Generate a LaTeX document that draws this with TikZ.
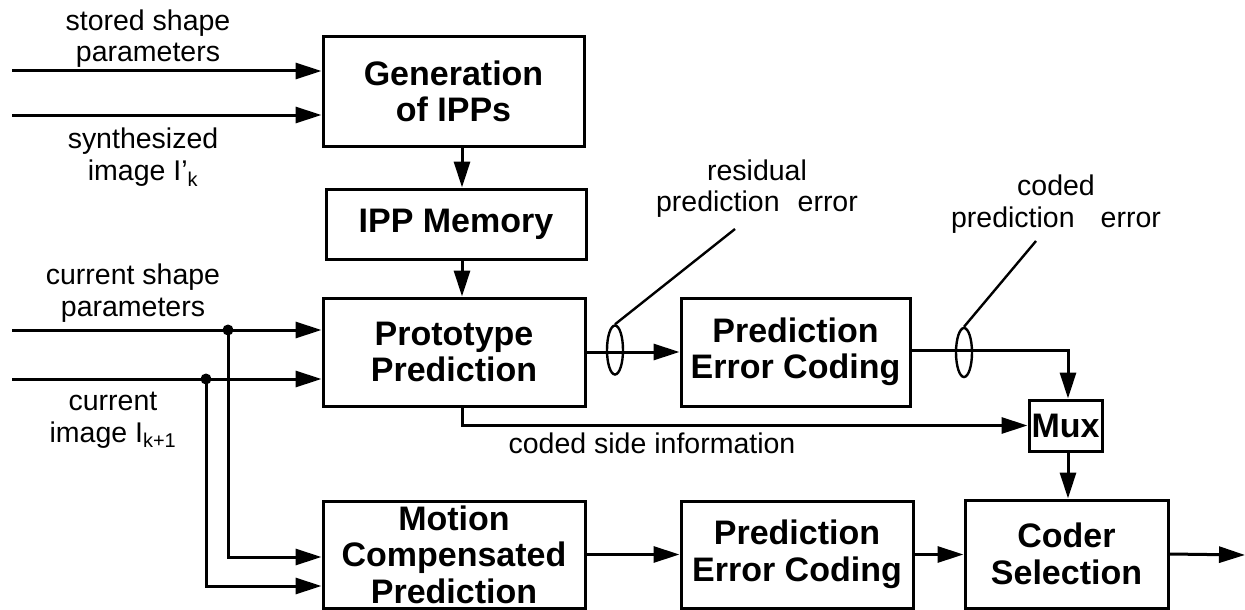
\documentclass[tikz,border=0pt]{standalone}
\usepackage{fontspec}
\setmainfont{Liberation Sans}
\usetikzlibrary{arrows.meta,calc,shapes.geometric}
\begin{document}
\begin{tikzpicture}[x=1pt,y=-1pt,
  line width=3pt,
  box/.style={draw, line width=3pt, font=\fontsize{34}{36.5}\selectfont\bfseries, align=center, inner sep=0pt},
  lbl/.style={font=\fontsize{28.5}{31.5}\selectfont, align=center, inner sep=0pt},
  arr/.style={-{Triangle[length=26pt,width=16pt]}},
  lead/.style={line width=2.4pt},
  ring/.style={draw, ellipse, line width=2.4pt, inner sep=0pt, minimum width=16pt, minimum height=49pt},
  dot/.style={circle, fill, inner sep=0pt, minimum size=11pt}]
\useasboundingbox (0,0) rectangle (1245,610);

% boxes
\node[box, minimum width=261pt, minimum height=109pt] (gen) at (453.5,91.5) {Generation\\of IPPs};
\node[box, minimum width=260pt, minimum height=70pt] (ipp) at (456,224) {IPP Memory};
\node[box, minimum width=262pt, minimum height=108pt] (proto) at (454,352) {Prototype\\Prediction};
\node[box, minimum width=262pt, minimum height=107pt] (mcp) at (454,554.5) {Motion\\Compensated\\Prediction};
\node[box, minimum width=229pt, minimum height=108pt] (pec1) at (795.5,352) {Prediction\\Error Coding};
\node[box, minimum width=232pt, minimum height=107pt] (pec2) at (797,554.5) {Prediction\\Error Coding};
\node[box, minimum width=73pt, minimum height=51pt] (mux) at (1065.5,425.5) {Mux};
\node[box, minimum width=203pt, minimum height=108pt] (coder) at (1066.5,554) {Coder\\Selection};

% labels
\node[lbl] (l1) at (148,38.8) {stored shape\\parameters};
\node[lbl] (l2) at (143,157) {synthesized\\image I’\textsubscript{k}};
\node[lbl] (l3) at (133,293.3) {current shape\\parameters};
\node[lbl] (l4) at (113,420) {current\\image I\textsubscript{k+1}};
\node[lbl] (l5) at (757,188.5) {residual\\prediction\hspace{18pt}error};
\node[lbl] (l6) at (1056,204) {coded\\prediction\hspace{26pt}error};
\node[lbl, anchor=base] (l7) at (652,453) {coded side information};

% inputs
\coordinate (in1) at (12,71);
\coordinate (in2) at (12,115);
\coordinate (in3) at (12,330);
\coordinate (in4) at (12,379);
\draw[arr] (in1) -- (in1 -| gen.west);
\draw[arr] (in2) -- (in2 -| gen.west);
\draw[arr] (in3) -- (in3 -| proto.west);
\draw[arr] (in4) -- (in4 -| proto.west);
\node[dot] (d1) at (228,330) {};
\node[dot] (d2) at (206,379) {};
\draw[arr] (d1.center) |- ([yshift=-2.5pt]mcp.west);
\draw[arr] (d2.center) |- ([yshift=-31.5pt]mcp.west);

% vertical chain
\draw[arr] ([xshift=8.5pt]gen.south) -- ([xshift=8.5pt]gen.south |- ipp.north);
\draw[arr] ([xshift=6pt]ipp.south) -- ([xshift=6pt]ipp.south |- proto.north);

% prototype path
\draw[arr] (proto.east) -- (pec1.west);
\draw[arr] ([yshift=2pt]pec1.east) -| ([xshift=2.5pt]mux.north);
\draw[arr] ([xshift=8pt]proto.south) |- (mux.west);
\draw[arr] ([xshift=2.5pt]mux.south) -- ([xshift=2.5pt]mux.south |- coder.north);

% rings and leaders
\node[ring] (e1) at (615,350) {};
\node[ring] (e2) at (964,352.5) {};
\coordinate (t1) at (735,229);
\coordinate (t2) at (1036,241);
\draw[lead] (e1.north) -- (t1);
\draw[lead] (e2.north) -- (t2);

% motion path
\draw[arr] (mcp.east) -- (pec2.west);
\draw[arr] (pec2.east) -- (coder.west |- pec2.east);
\coordinate (out) at (1245,555);
\draw[arr] (coder.east) -- (out);
\end{tikzpicture}
\end{document}
